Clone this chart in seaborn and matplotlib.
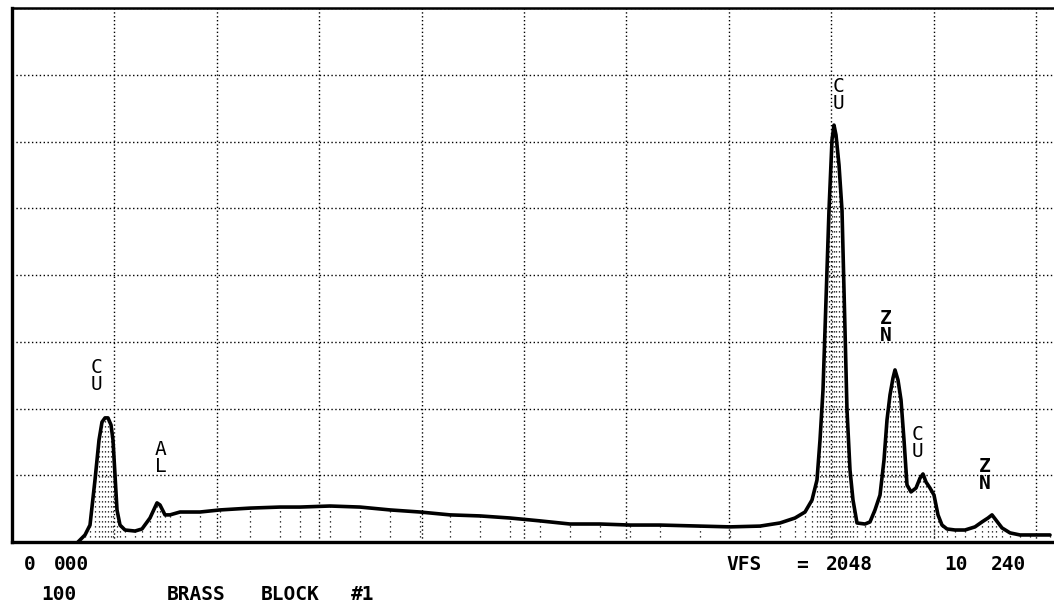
import numpy as np
import pandas as pd
import matplotlib
matplotlib.use("Agg")
import matplotlib.pyplot as plt
import seaborn as sns

# X-ray spectrum of a brass block: energy (keV) vs counts, full scale 2048
energy_kev = [0.66, 0.73, 0.78, 0.83, 0.87, 0.90, 0.93, 0.96, 0.99, 1.01,
              1.05, 1.08, 1.13, 1.23, 1.30, 1.38, 1.45, 1.48, 1.53, 1.58,
              1.68, 1.88, 2.08, 2.38, 2.68, 2.88, 3.18, 3.48, 3.78, 4.08,
              4.38, 4.68, 4.98, 5.28, 5.58, 5.88, 6.18, 6.48, 6.88, 7.18,
              7.48, 7.68, 7.83, 7.93, 8.00, 8.05, 8.08, 8.11, 8.14, 8.17,
              8.20, 8.22, 8.24, 8.27, 8.30, 8.33, 8.35, 8.38, 8.41, 8.45,
              8.53, 8.58, 8.63, 8.68, 8.72, 8.75, 8.78, 8.81, 8.83, 8.86,
              8.89, 8.92, 8.95, 8.99, 9.04, 9.08, 9.11, 9.14, 9.18, 9.22,
              9.26, 9.30, 9.35, 9.43, 9.53, 9.63, 9.70, 9.76, 9.80, 9.84,
              9.90, 9.98, 10.08, 10.18, 10.38]
counts = [0, 27, 65, 238, 391, 460, 476, 476, 449, 391,
          123, 65, 46, 42, 50, 92, 150, 142, 104, 104,
          115, 115, 123, 130, 134, 134, 138, 134, 123, 115,
          104, 100, 92, 81, 69, 69, 65, 65, 61, 58,
          61, 73, 92, 115, 161, 238, 391, 583, 928, 1273,
          1542, 1599, 1561, 1446, 1273, 813, 506, 276, 161, 73,
          69, 77, 123, 180, 314, 468, 564, 629, 660, 621,
          545, 391, 219, 192, 207, 245, 261, 230, 207, 180,
          104, 65, 50, 46, 46, 58, 77, 92, 104, 84,
          54, 35, 27, 27, 27]

# Peak identifications (stacked letters) and where they are written
peak_labels = ["C\nU", "A\nL", "C\nU", "Z\nN", "C\nU", "Z\nN"]
label_energy = [0.85, 1.49, 8.27, 8.74, 9.05, 9.73]
label_counts = [637, 322, 1714, 824, 380, 257]
label_bold = [False, False, False, True, False, True]

full_scale = 2048
e_max = 10.42
div_kev = 1.024

spec = pd.DataFrame({"energy": energy_kev, "counts": counts})

sns.set_style("white")
plt.rcParams["font.family"] = ["DejaVu Sans Mono", "DejaVu Sans"]

W, H = 1054, 616
fig = plt.figure(figsize=(W / 100, H / 100), dpi=100)
ax = fig.add_axes([12 / W, 74 / H, 1 - 12 / W, 534 / H])

# dotted channel columns under the trace
ax.vlines(spec["energy"], 0, spec["counts"], colors="black",
          linestyles=(0, (1, 3)), linewidth=0.9, zorder=1)

sns.lineplot(data=spec, x="energy", y="counts", ax=ax, color="black",
             linewidth=2.6, zorder=3)

ax.set_xlim(0, e_max)
ax.set_ylim(0, full_scale)
ax.set_xticks(np.arange(0, 10.3, div_kev))
ax.set_yticks(np.arange(0, full_scale + 1, 256))
ax.grid(True, color="black", linestyle=(0, (1, 1.8)), linewidth=1.0, zorder=0)
ax.tick_params(length=0, labelbottom=False, labelleft=False)
ax.set_xlabel("")
ax.set_ylabel("")

for side in ["left", "bottom"]:
    ax.spines[side].set_linewidth(2.4)
    ax.spines[side].set_color("black")
ax.spines["top"].set_linewidth(1.8)
ax.spines["top"].set_color("black")
ax.spines["right"].set_visible(False)

for lab, xe, yc, bold in zip(peak_labels, label_energy, label_counts, label_bold):
    ax.text(xe, yc, lab, ha="center", va="center", fontsize=14,
            fontweight="bold" if bold else "normal",
            linespacing=0.82, color="black", zorder=4)

# footer text of the readout
def foot(px, py, s):
    fig.text(px / W, 1 - py / H, s, ha="left", va="center",
             fontsize=14, fontweight="bold", color="black")

foot(24, 565, "0")
foot(54, 565, "000")
foot(41, 594, "100")
foot(167, 594, "BRASS")
foot(261, 594, "BLOCK")
foot(351, 594, "#1")
foot(726, 565, "VFS")
foot(796, 565, "=")
foot(826, 565, "2048")
foot(944, 565, "10")
foot(991, 565, "240")

fig.savefig("out.png", dpi=100, facecolor="white")
